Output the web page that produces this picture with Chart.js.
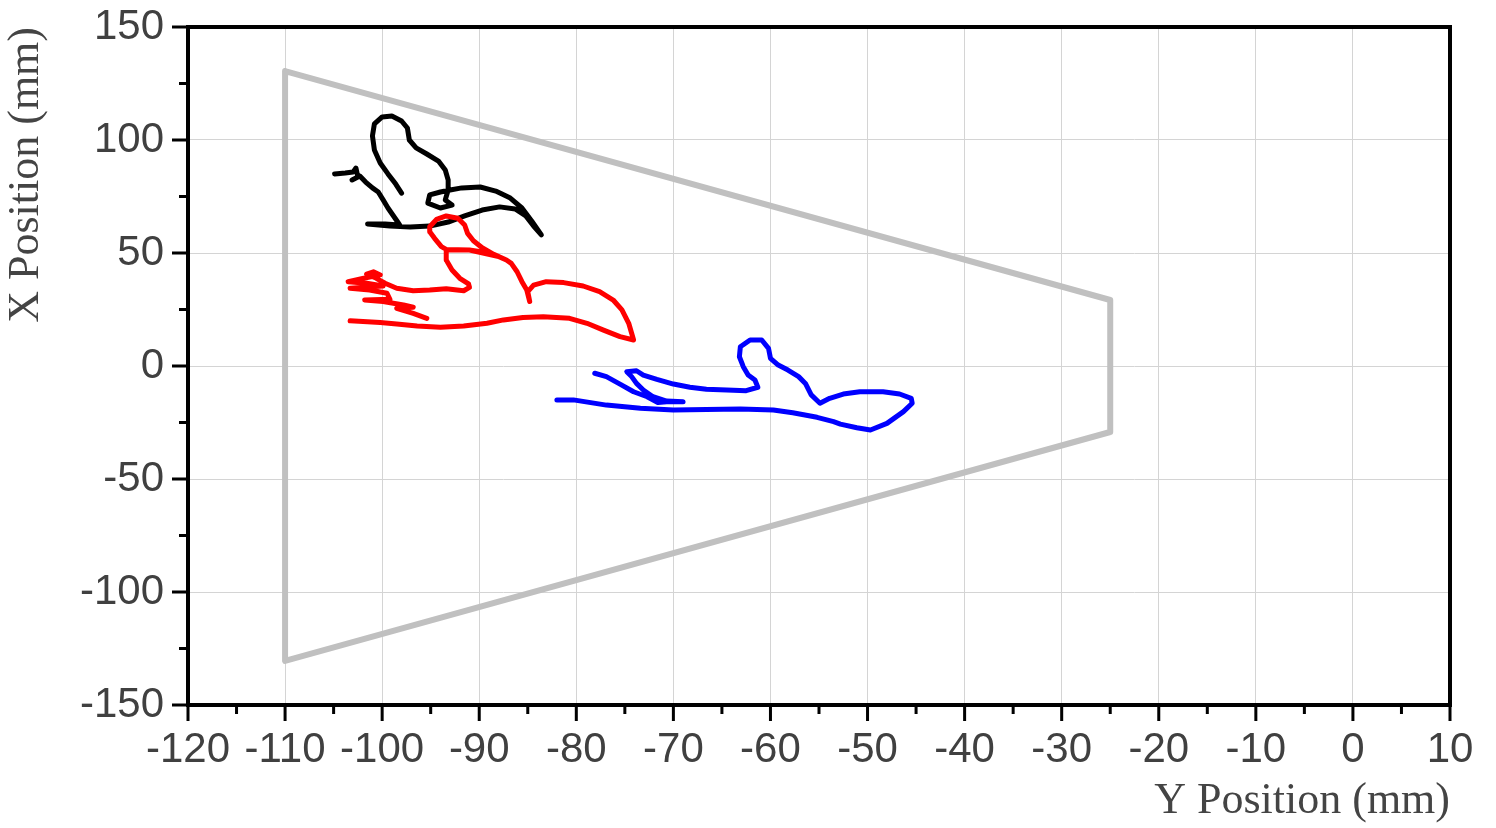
<!DOCTYPE html>
<html>
<head>
<meta charset="utf-8">
<script src="https://cdn.jsdelivr.net/npm/chart.js@4.4.1/dist/chart.umd.min.js"></script>
<style>
  body { margin: 0; background: #fff; }
  canvas { display: block; }
</style>
</head>
<body>
<canvas id="trackChart" width="1496" height="828"></canvas>
<script>
// axis ranges (mm)
const xMin = -120, xMax = 10, xStep = 10;
const yMin = -150, yMax = 150, yStep = 50;

// workspace boundary (trapezoid, closed)
const boundaryX = [-110, -25, -25, -110, -110];
const boundaryY = [130.5, 29.2, -29.2, -130.5, 130.5];

// black trajectory
const blackX = [-104.9, -103.8, -103.0, -102.7, -102.5, -103.1, -102.3, -101.7, -101.0, -100.4, -99.9, -99.4, -98.9, -98.4, -98.2,
  -99.7, -101.5, -99.2, -97.1, -95.1, -93.2, -91.5, -89.7, -87.9, -86.3, -85.2, -84.4, -83.6,
  -84.6, -85.6, -86.8, -88.3, -89.9, -91.8, -93.0, -94.0, -95.1, -95.3, -94.0, -92.8, -93.5, -93.2, -93.2, -93.5, -94.2, -95.4,
  -96.5, -97.2, -97.4, -98.0, -99.0, -100.0, -100.8, -101.0, -100.8, -100.2, -99.4, -98.6, -98.0];
const blackY = [85.0, 85.4, 85.8, 87.6, 83.6, 82.3, 84.1, 81.4, 78.8, 77.0, 73.5, 69.9, 66.8, 63.7, 62.4,
  62.8, 62.8, 61.9, 61.5, 61.9, 63.7, 66.4, 69.0, 70.4, 69.5, 66.4, 61.9, 58.0,
  64.2, 69.9, 74.3, 77.4, 79.2, 78.8, 77.9, 77.0, 75.7, 72.1, 69.9, 71.2, 73.5, 77.9, 82.3, 86.7, 90.7, 93.8,
  96.5, 100.0, 105.3, 108.4, 110.6, 110.2, 107.1, 101.8, 95.6, 89.8, 85.0, 80.5, 76.5];

// red trajectory
const redX = [-103.3, -100.2, -98.5, -96.4, -94.0, -91.6, -89.2, -87.5, -85.5, -83.4, -80.7, -78.9, -77.2, -75.5, -74.1,
  -74.3, -74.6, -75.3, -76.2, -77.6, -79.3, -81.3, -83.1, -84.4, -85.0, -84.8, -85.1, -85.6, -86.1, -86.7, -87.2,
  -88.5, -89.7, -90.6, -91.2, -91.5, -92.2, -93.4, -94.4, -95.1, -95.1, -94.6, -93.9, -93.4, -91.0, -89.2, -88.0,
  -91.0, -93.4, -93.4, -92.8, -92.0, -91.1, -91.0, -91.6, -93.4, -95.1, -96.8, -98.5, -99.7, -100.6, -101.6,
  -100.9, -100.2, -101.9, -103.5, -101.6, -99.9, -103.3, -101.3, -99.5, -99.2, -101.8, -99.9, -97.8, -96.8,
  -98.5, -96.8, -95.4];
const redY = [20.0, 19.2, 18.6, 17.7, 17.1, 17.7, 18.9, 20.4, 21.5, 21.8, 21.1, 18.9, 15.9, 13.0, 11.5,
  14.5, 18.9, 24.8, 29.2, 32.9, 35.4, 36.9, 37.3, 35.8, 32.9, 28.5, 33.6, 37.3, 41.7, 45.4, 46.9,
  49.4, 52.3, 55.4, 58.7, 62.4, 65.4, 66.4, 64.9, 61.6, 59.4, 56.5, 52.8, 51.6, 51.3, 50.1, 48.4,
  51.3, 51.3, 46.9, 42.5, 38.8, 36.3, 34.8, 33.3, 34.2, 33.6, 33.3, 34.4, 36.6, 38.8, 40.7,
  41.7, 40.3, 38.8, 37.3, 36.6, 35.4, 34.4, 33.6, 32.2, 29.5, 29.2, 28.5, 27.0, 26.0,
  25.5, 23.3, 21.1];

// blue trajectory
const blueX = [-78.1, -76.9, -75.5, -74.1, -72.7, -71.6, -70.7, -69.0, -70.7, -72.1, -73.1, -73.8, -74.3, -74.8, -73.8,
  -73.1, -71.7, -70.0, -68.3, -66.6, -64.5, -62.5, -61.3, -61.6, -62.3, -62.8, -63.2, -63.1, -62.1, -60.9,
  -60.2, -60.0, -59.2, -58.2, -57.1, -56.4, -55.8, -54.9, -53.9, -52.5, -50.8, -48.4, -46.7, -45.5, -45.4,
  -46.3, -48.0, -49.7, -51.1, -52.8, -53.5, -55.2, -57.7, -59.7, -63.1, -66.6, -70.0, -73.4, -76.9, -80.3, -82.0];
const blueY = [-3.2, -4.7, -8.0, -11.4, -13.6, -16.2, -15.8, -15.8, -15.5, -13.6, -10.6, -7.7, -4.7, -2.5, -2.1,
  -4.0, -5.9, -8.0, -9.4, -10.3, -10.6, -10.9, -9.4, -6.2, -4.0, -0.3, 4.1, 8.5, 11.5, 11.5,
  7.8, 3.4, 0.4, -1.8, -4.7, -7.7, -12.8, -16.5, -14.3, -12.4, -11.4, -11.4, -12.4, -14.3, -16.5,
  -20.2, -25.4, -28.3, -27.3, -25.7, -24.6, -22.7, -20.7, -19.5, -19.0, -19.2, -19.5, -18.7, -17.3, -15.0, -15.0];

function toPoints(xs, ys) {
    return xs.map((v, i) => ({ x: v, y: ys[i] }));
}

// outward major/minor ticks + full frame box
const frameTicks = {
    id: 'frameTicks',
    afterDraw(chart) {
        const { ctx, chartArea: a, scales } = chart;
        ctx.save();
        ctx.strokeStyle = '#000';
        ctx.lineWidth = 3;
        ctx.beginPath();
        for (let v = xMin; v <= xMax; v += xStep / 2) {
            const px = scales.x.getPixelForValue(v);
            const len = Math.abs(v % xStep) === 0 ? 16 : 9;
            ctx.moveTo(px, a.bottom);
            ctx.lineTo(px, a.bottom + len);
        }
        for (let v = yMin; v <= yMax; v += yStep / 2) {
            const py = scales.y.getPixelForValue(v);
            const len = Math.abs(v % yStep) === 0 ? 16 : 9;
            ctx.moveTo(a.left, py);
            ctx.lineTo(a.left - len, py);
        }
        ctx.stroke();
        ctx.lineWidth = 4;
        ctx.strokeRect(a.left, a.top, a.right - a.left, a.bottom - a.top);
        ctx.restore();
    }
};

const tickFont = { family: "'Liberation Sans', Arial, sans-serif", size: 42 };
const titleFont = { family: "'Liberation Serif', 'Times New Roman', serif", size: 44 };

new Chart(document.getElementById('trackChart'), {
    type: 'scatter',
    data: {
        datasets: [
            { data: toPoints(redX, redY), borderColor: '#ff0000', borderWidth: 5, order: 1 },
            { data: toPoints(blackX, blackY), borderColor: '#000000', borderWidth: 5, order: 2 },
            { data: toPoints(blueX, blueY), borderColor: '#0000ff', borderWidth: 5, order: 3 },
            { data: toPoints(boundaryX, boundaryY), borderColor: '#c0c0c0', borderWidth: 6, order: 4 }
        ].map(d => Object.assign({ showLine: true, pointRadius: 0, fill: false, tension: 0, borderJoinStyle: 'round', borderCapStyle: 'round' }, d))
    },
    options: {
        responsive: false,
        animation: false,
        layout: { padding: { top: 27, right: 46, left: 0, bottom: 0 } },
        plugins: { legend: { display: false }, tooltip: { enabled: false } },
        scales: {
            x: {
                type: 'linear',
                min: xMin, max: xMax,
                ticks: { stepSize: xStep, color: '#404040', font: tickFont, padding: 20, autoSkip: false, maxRotation: 0 },
                grid: { color: '#d4d4d4', lineWidth: 1, drawTicks: false },
                border: { display: false },
                title: { display: true, text: 'Y Position (mm)', align: 'end', color: '#444', font: titleFont, padding: { top: 4, bottom: 0 } },
                afterFit: s => { s.height = 123; s.paddingLeft = 0; s.paddingRight = 0; }
            },
            y: {
                type: 'linear',
                min: yMin, max: yMax,
                ticks: { stepSize: yStep, color: '#404040', font: tickFont, padding: 24 },
                grid: { color: '#d4d4d4', lineWidth: 1, drawTicks: false },
                border: { display: false },
                title: { display: true, text: 'X Position (mm)', align: 'end', color: '#444', font: titleFont, padding: { top: 0, bottom: 4 } },
                afterFit: s => { s.width = 188; s.paddingTop = 0; s.paddingBottom = 0; }
            }
        }
    },
    plugins: [frameTicks]
});
</script>
</body>
</html>
